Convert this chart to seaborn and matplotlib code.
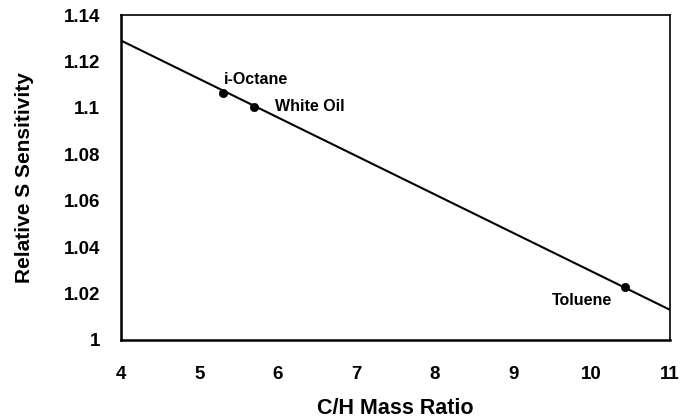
import matplotlib
matplotlib.use("Agg")
import matplotlib.pyplot as plt
import seaborn as sns
import pandas as pd

# fitted line end points
line_x = [4.0, 11.0]
line_y = [1.129, 1.013]

# measured compounds
names = ["i-Octane", "White Oil", "Toluene"]
ch_ratio = [5.30, 5.69, 10.42]
rel_sens = [1.1066, 1.1002, 1.0228]

x_ticks = [4, 5, 6, 7, 8, 9, 10, 11]
y_ticks = [1.0, 1.02, 1.04, 1.06, 1.08, 1.1, 1.12, 1.14]
y_tick_labels = ["1", "1.02", "1.04", "1.06", "1.08", "1.1", "1.12", "1.14"]

sns.set_style("white")
plt.rcParams["font.family"] = ["Liberation Sans", "DejaVu Sans"]
plt.rcParams.update({"text.color": "black", "axes.labelcolor": "black",
                     "xtick.color": "black", "ytick.color": "black"})

fig = plt.figure(figsize=(6.83, 4.18), dpi=100)
ax = fig.add_axes([121 / 683, 78 / 418, 549 / 683, 325 / 418])

line_df = pd.DataFrame({"x": line_x, "y": line_y})
pts_df = pd.DataFrame({"name": names, "x": ch_ratio, "y": rel_sens})

sns.lineplot(data=line_df, x="x", y="y", ax=ax, color="black", linewidth=1.5)
sns.scatterplot(data=pts_df, x="x", y="y", ax=ax, color="black", s=36,
                edgecolor="black", zorder=3)

# label placement relative to each point
offsets = {"i-Octane": (0.01, 0.0058, "left"),
           "White Oil": (0.27, 0.0002, "left"),
           "Toluene": (-0.16, -0.0056, "right")}
for n, x, y in zip(names, ch_ratio, rel_sens):
    dx, dy, ha = offsets[n]
    ax.text(x + dx, y + dy, n, ha=ha, va="center", fontsize=11.5,
            fontweight="bold", color="black")

ax.set_xlim(4, 11)
ax.set_ylim(1.0, 1.14)
ax.set_xticks(x_ticks)
ax.set_yticks(y_ticks)
ax.set_yticklabels(y_tick_labels)
ax.tick_params(axis="both", direction="in", length=5, width=1, color="black",
               labelcolor="black", labelsize=13.5)
ax.tick_params(axis="y", pad=15)
ax.tick_params(axis="x", pad=19)
for lab in ax.get_xticklabels() + ax.get_yticklabels():
    lab.set_fontweight("bold")

for sp in ax.spines.values():
    sp.set_color("black")
    sp.set_linewidth(1.2)
ax.spines["bottom"].set_linewidth(1.8)
ax.spines["left"].set_linewidth(1.8)

ax.set_xlabel("C/H Mass Ratio", fontsize=15.5, fontweight="bold", color="black")
ax.set_ylabel("Relative S Sensitivity", fontsize=15, fontweight="bold",
              color="black")
ax.xaxis.set_label_coords(0.5, -0.212)
ax.yaxis.set_label_coords(-0.175, 0.5)
ax.xaxis.label.set_va("center")
ax.yaxis.label.set_va("center")

fig.savefig("out.png", dpi=100)
